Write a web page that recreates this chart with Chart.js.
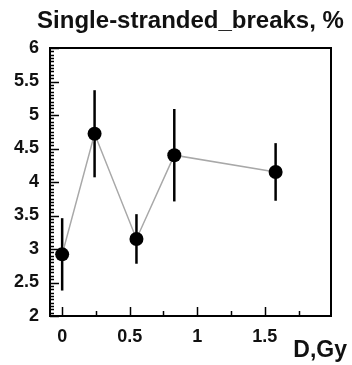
<!DOCTYPE html>
<html>
<head>
<meta charset="utf-8">
<script src="https://cdn.jsdelivr.net/npm/chart.js@4/dist/chart.umd.min.js"></script>
<style>
html,body{margin:0;padding:0;background:#fff}
</style>
</head>
<body>
<canvas id="grafico" width="352" height="365"></canvas>
<script>
// dados
const doses=[0,0.24,0.55,0.83,1.58]
const quebras=[2.92,4.72,3.15,4.40,4.15]
const erros=[0.54,0.65,0.37,0.69,0.43]

const xTicks=[0,0.5,1,1.5]
const yTicks=[2,2.5,3,3.5,4,4.5,5,5.5,6]

const titulo="Single-stranded_breaks, %"
const rotuloX="D,Gy"

const fonte="'Liberation Sans', Arial, sans-serif"

// moldura, marcas internas, barras de erro e textos
const extras={
id:"extras",
beforeDatasetsDraw(chart){
const ctx=chart.ctx
const xs=chart.scales.x
const ys=chart.scales.y
ctx.save()
ctx.strokeStyle="#000"
ctx.lineWidth=2.5
for(let i=0;i<doses.length;i++){
const px=xs.getPixelForValue(doses[i])
ctx.beginPath()
ctx.moveTo(px,ys.getPixelForValue(quebras[i]-erros[i]))
ctx.lineTo(px,ys.getPixelForValue(quebras[i]+erros[i]))
ctx.stroke()
}
ctx.restore()
},
afterDraw(chart){
const ctx=chart.ctx
const a=chart.chartArea
const xs=chart.scales.x
const ys=chart.scales.y
ctx.save()
ctx.strokeStyle="#000"
ctx.lineWidth=2
ctx.strokeRect(a.left,a.top,a.right-a.left,a.bottom-a.top)

ctx.lineWidth=1.5
// marcas do eixo y (0.05)
for(let k=0;k<=80;k++){
const v=2+k*0.05
const py=Math.round(ys.getPixelForValue(v))+0.5
const len=(k%10===0)?9:4
ctx.beginPath()
ctx.moveTo(a.left,py)
ctx.lineTo(a.left+len,py)
ctx.stroke()
}
// marcas do eixo x (0.25)
for(let k=0;k<=7;k++){
const v=k*0.25
const px=Math.round(xs.getPixelForValue(v))+0.5
const len=(k%2===0)?9:5
ctx.beginPath()
ctx.moveTo(px,a.bottom)
ctx.lineTo(px,a.bottom-len)
ctx.stroke()
}

ctx.fillStyle="#111"
ctx.font="bold 24px "+fonte
ctx.textAlign="center"
ctx.textBaseline="alphabetic"
ctx.fillText(titulo,(a.left+a.right)/2,28)

ctx.font="bold 23px "+fonte
ctx.textAlign="right"
ctx.fillText(rotuloX,347,357)
ctx.restore()
}
}

new Chart(document.getElementById("grafico"),{
type:"scatter",
data:{
datasets:[{
data:doses.map((d,i)=>({x:d,y:quebras[i]})),
showLine:true,
borderColor:"#a8a8a8",
borderWidth:1.5,
pointRadius:7,
pointHoverRadius:7,
pointBackgroundColor:"#000",
pointBorderColor:"#000",
pointBorderWidth:0
}]
},
options:{
responsive:false,
animation:false,
layout:{padding:{left:0,right:21,top:48,bottom:0}},
plugins:{
legend:{display:false},
title:{display:false},
tooltip:{enabled:false}
},
scales:{
x:{
type:"linear",
min:-0.09,
max:1.99,
grid:{display:false,drawTicks:false},
border:{display:false},
afterBuildTicks(s){s.ticks=xTicks.map(v=>({value:v}))},
afterFit(s){s.height=49},
ticks:{
padding:10,
color:"#111",
font:{family:fonte,size:18,weight:"bold"},
maxRotation:0,
callback:v=>String(v)
}
},
y:{
min:2,
max:6,
grid:{display:false,drawTicks:false},
border:{display:false},
afterBuildTicks(s){s.ticks=yTicks.map(v=>({value:v}))},
afterFit(s){s.width=50},
ticks:{
padding:11,
color:"#111",
font:{family:fonte,size:18,weight:"bold"},
callback:v=>String(v)
}
}
}
},
plugins:[extras]
})
</script>
</body>
</html>
